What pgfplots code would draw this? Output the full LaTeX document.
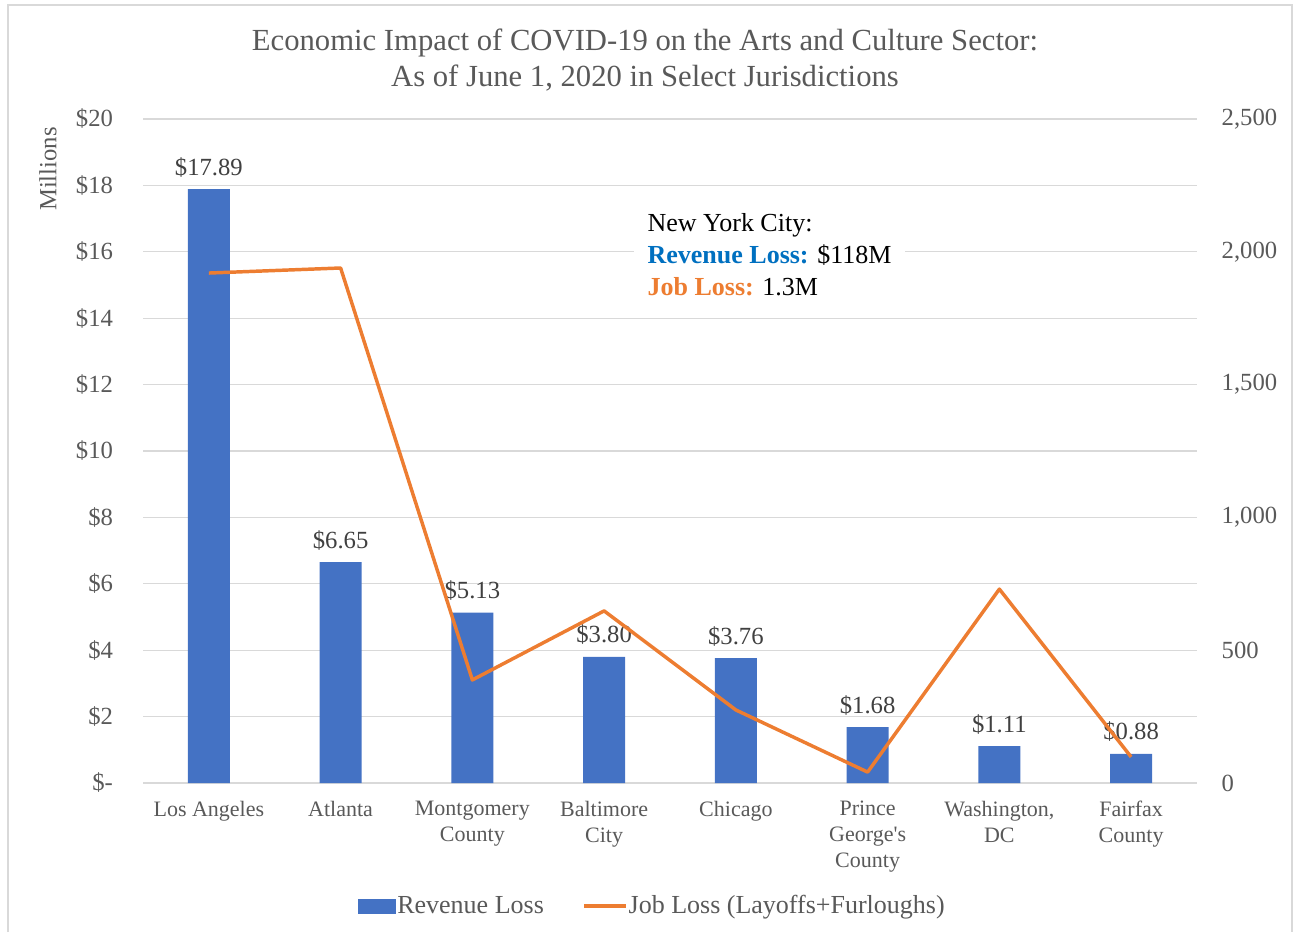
\documentclass[border=0pt]{standalone}
\usepackage{pgfplots}
\pgfplotsset{compat=1.18}
\usepackage{fontspec}
\setmainfont{Liberation Serif}

\definecolor{barblue}{HTML}{4472C4}
\definecolor{lineorange}{HTML}{ED7D31}
\definecolor{nycblue}{HTML}{0070C0}
\definecolor{textgrey}{HTML}{595959}
\definecolor{labelgrey}{HTML}{404040}
\definecolor{gridgrey}{HTML}{D9D9D9}

\begin{document}
\begin{tikzpicture}[x=0.75pt,y=0.75pt]
% 1 unit = 1 pixel of the 1296x932 reference, origin bottom left
\draw[gridgrey, line width=1.5pt] (8,0) -- (8,927) -- (1292,927) -- (1292,0);

% revenue loss, left axis
\begin{axis}[
  at={(107.25pt,111.75pt)}, anchor=south west,
  scale only axis, width=790.5pt, height=498pt,
  xmin=-0.5, xmax=7.5, ymin=0, ymax=20,
  ybar, bar width=31.5pt,
  xtick={0,...,7},
  xticklabels={Los Angeles, Atlanta, Montgomery\\County, Baltimore\\City,
    Chicago, Prince\\George\textquotesingle s\\County, {Washington,\\DC}, Fairfax\\County},
  ytick={0,2,...,20},
  yticklabels={\$-\hspace{10pt}, \$2, \$4, \$6, \$8, \$10, \$12, \$14, \$16, \$18, \$20},
  ymajorgrids, grid style={gridgrey, line width=0.9pt},
  axis line style={draw=none}, major tick length=0,
  tick label style={text=textgrey},
  xticklabel style={font=\fontsize{16.5}{19.5}\selectfont, align=center, yshift=-10pt},
  yticklabel style={font=\fontsize{18.5}{22}\selectfont, xshift=-19pt},
  nodes near coords, point meta=explicit symbolic,
  every node near coord/.append style={font=\fontsize{18.5}{22}\selectfont,
    text=labelgrey, yshift=5.5pt},
]
\addplot[fill=barblue, draw=none] coordinates {
  (0,17.89) [\$17.89]
  (1,6.65)  [\$6.65]
  (2,5.13)  [\$5.13]
  (3,3.80)  [\$3.80]
  (4,3.76)  [\$3.76]
  (5,1.68)  [\$1.68]
  (6,1.11)  [\$1.11]
  (7,0.88)  [\$0.88]
};
\end{axis}

% job loss, right axis
\begin{axis}[
  at={(107.25pt,111.75pt)}, anchor=south west,
  scale only axis, width=790.5pt, height=498pt,
  xmin=-0.5, xmax=7.5, ymin=0, ymax=2500,
  axis x line=none, axis y line*=right,
  axis line style={draw=none}, major tick length=0,
  xtick=\empty,
  ytick={0,500,...,2500},
  yticklabels={0, 500, {1,000}, {1,500}, {2,000}, {2,500}},
  yticklabel style={font=\fontsize{18.5}{22}\selectfont, text=textgrey, xshift=15pt},
  legend style={at={(0.483,-0.185)}, anchor=center, draw=none, fill=none,
    legend columns=2, font=\fontsize{19.5}{23}\selectfont, text=textgrey,
    nodes={inner xsep=1pt},
    /tikz/every even column/.append style={column sep=28pt}},
]
\addlegendimage{legend image code/.code={\fill[barblue] (0pt,-5.25pt) rectangle (28pt,5.25pt);}}
\addlegendentry{Revenue Loss}
\addplot[lineorange, line width=2.6pt, line join=round,
  legend image code/.code={\draw[lineorange, line width=2.6pt] (0pt,0pt) -- (31pt,0pt);}]
  coordinates {
  (0,1920) (1,1939) (2,388) (3,648) (4,275) (5,41) (6,730) (7,98)
};
\addlegendentry{Job Loss (Layoffs+Furloughs)}
\end{axis}

\node[align=center, text=textgrey, font=\fontsize{23}{27}\selectfont]
  at (645,872) {Economic Impact of COVID-19 on the Arts and Culture Sector:\\
  As of June 1, 2020 in Select Jurisdictions};
\node[rotate=90, text=textgrey, font=\fontsize{18.5}{22}\selectfont] at (48,763) {Millions};
\node[anchor=north west, fill=white, align=left, inner xsep=10pt, inner ysep=2pt,
  font=\fontsize{19.5}{24}\selectfont] at (634,721)
  {New York City:\\
   \textcolor{nycblue}{\textbf{Revenue Loss:}} \$118M\\
   \textcolor{lineorange}{\textbf{Job Loss:}} 1.3M};

\pgfresetboundingbox
\useasboundingbox (0,0) rectangle (1296,932);
\end{tikzpicture}
\end{document}
